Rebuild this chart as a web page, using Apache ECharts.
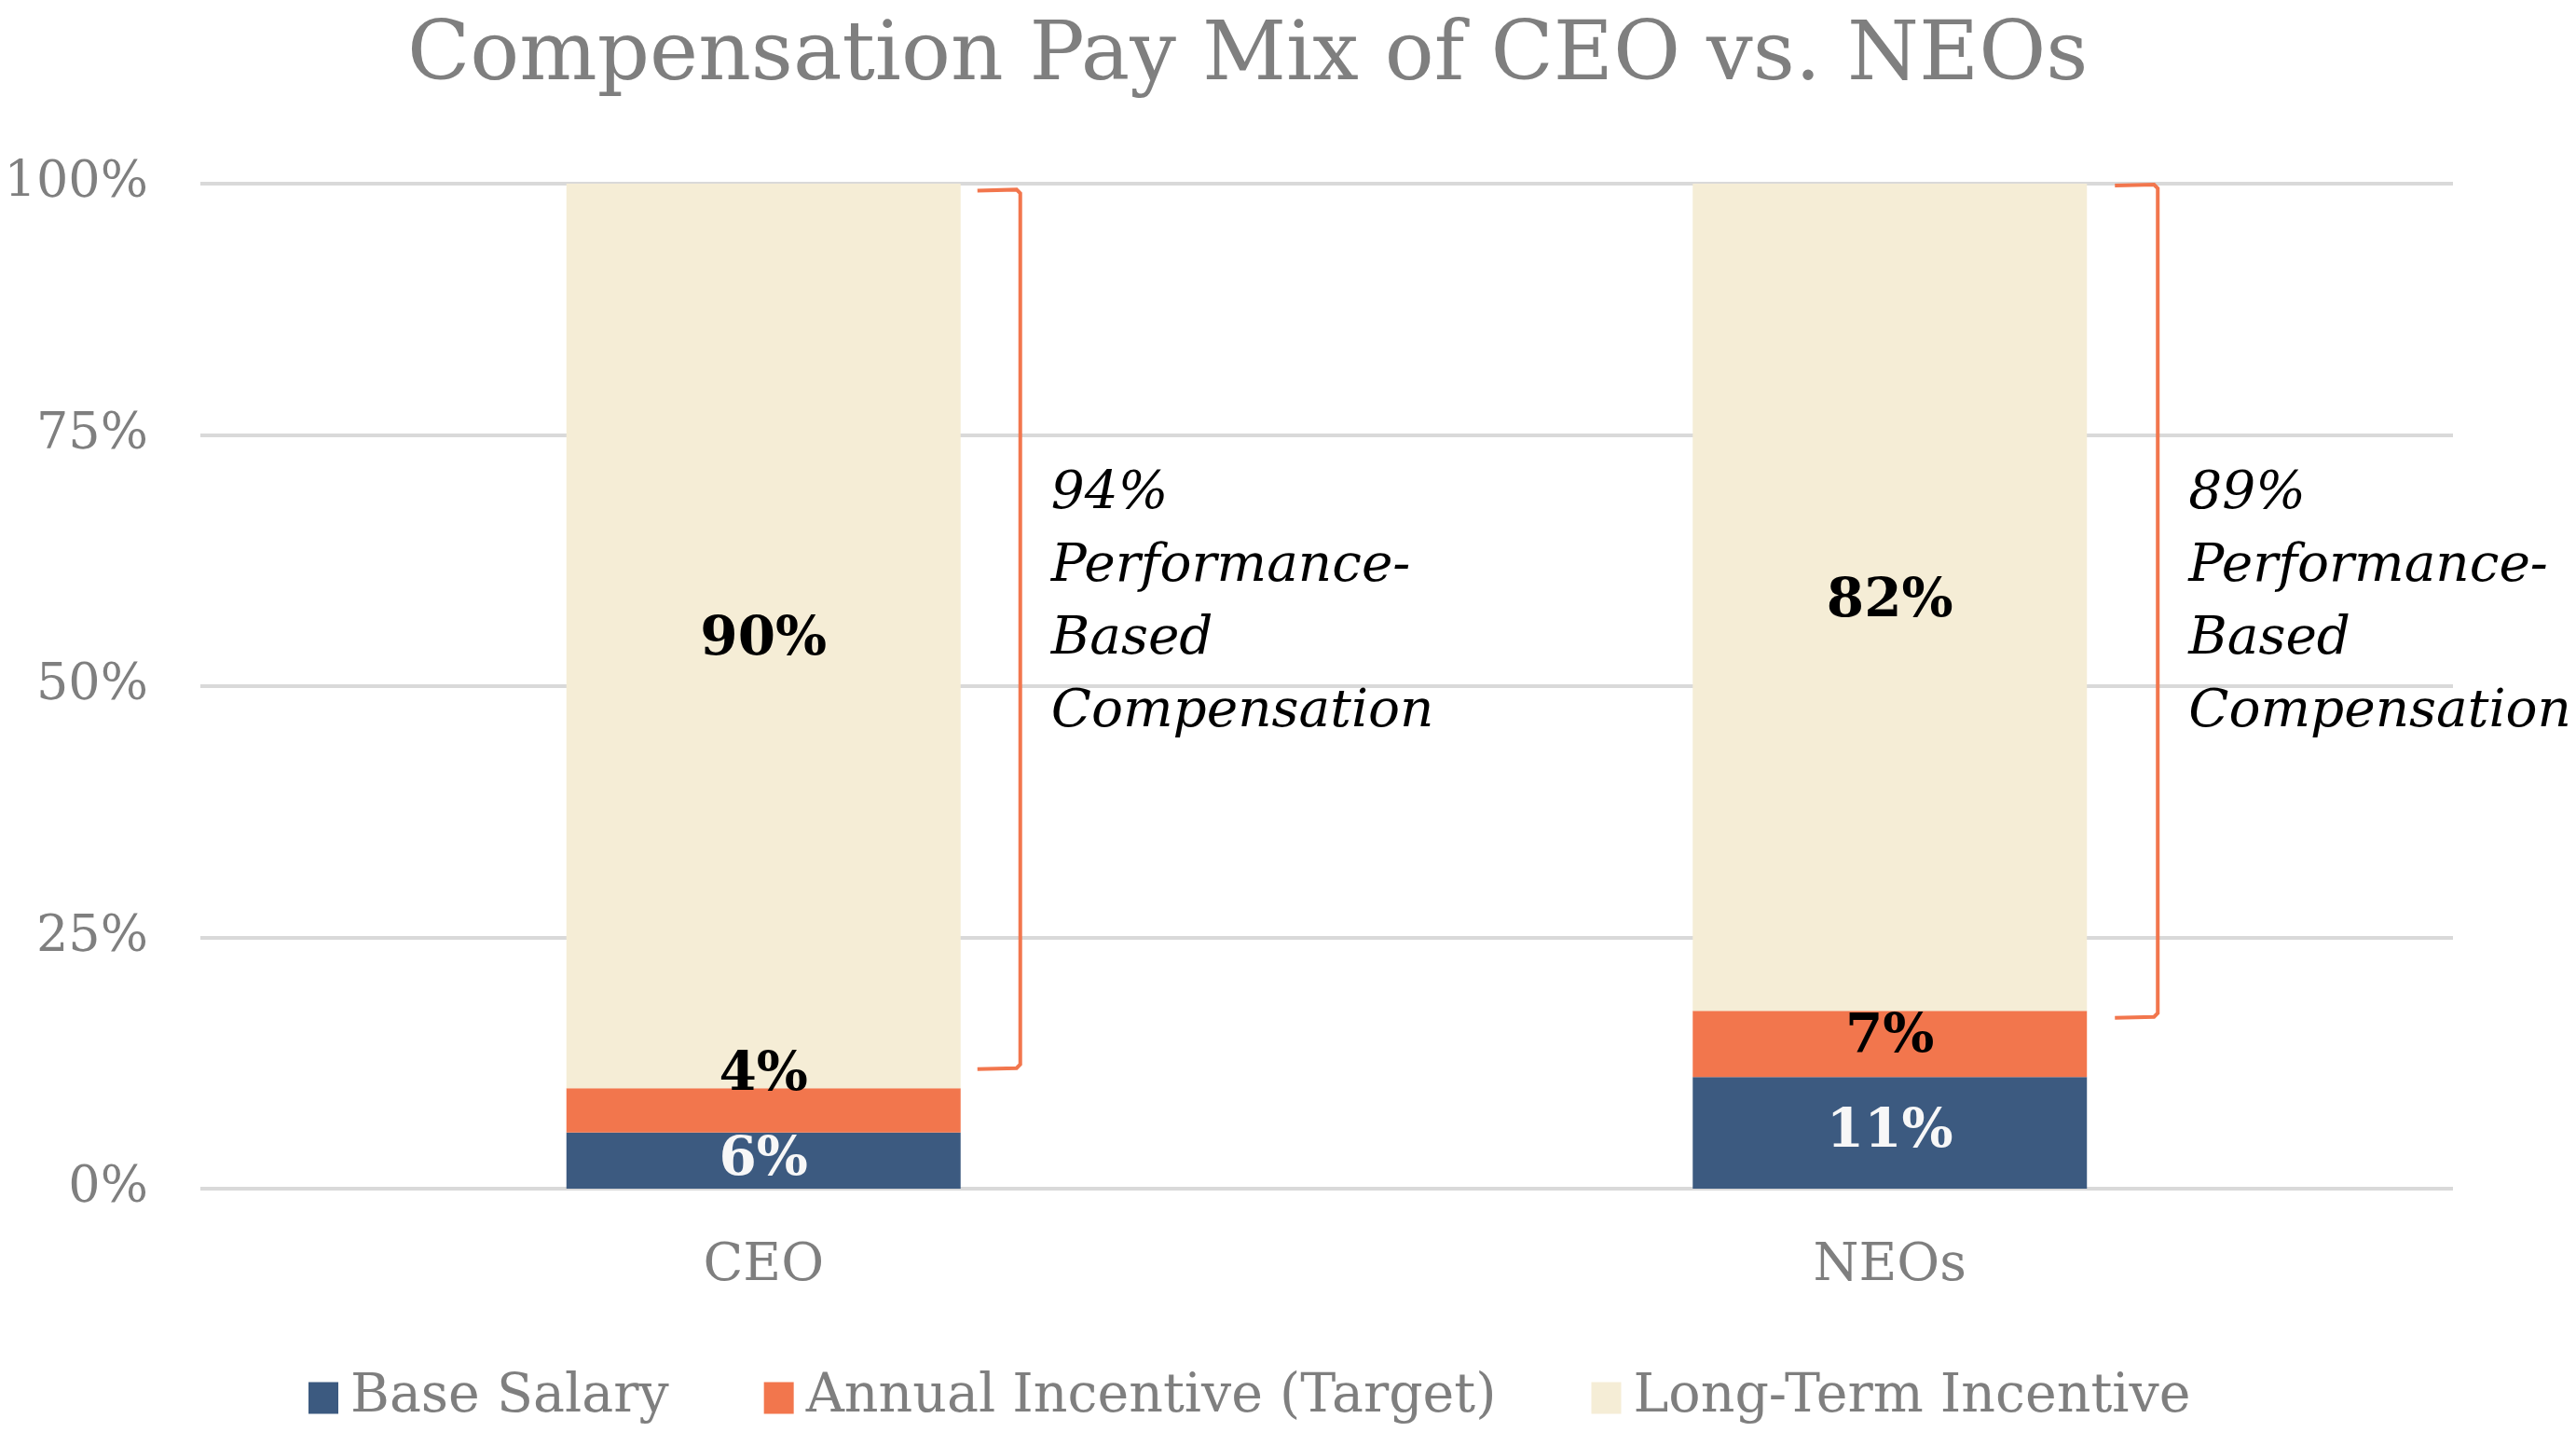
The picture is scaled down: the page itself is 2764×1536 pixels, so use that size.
<!DOCTYPE html>
<html><head><meta charset="utf-8">
<script src="https://cdn.jsdelivr.net/npm/echarts@6/dist/echarts.min.js"></script>
<style>html,body{margin:0;padding:0;background:#fff}#c{width:2764px;height:1536px}</style>
</head><body><div id="c"></div>
<script>
const categories = ['CEO', 'NEOs'];
const seriesNames = ['Base Salary', 'Annual Incentive (Target)', 'Long-Term Incentive'];
const baseSalary = [5.6, 11.1];
const annualIncentive = [4.4, 6.6];
const longTermIncentive = [90.0, 82.3];
const yTicks = [0, 25, 50, 75, 100];
const performanceBased = [94, 89];
const bracketLow = [11.9, 17.0];
const bracketHigh = [99.5, 100];
const noteCenter = 58.2;

const FONT = '"DejaVu Serif", "Liberation Serif", serif';
const GREY = '#7F7F7F';
const C_BASE = '#3C5A80', C_ANN = '#F2764D', C_LTI = '#F5EDD6';

const chart = echarts.init(document.getElementById('c'));
const pct = p => Math.round(p.value) + '%';
const labelBase = {show: true, fontFamily: FONT, fontWeight: 'bold', fontSize: 58};
const annualOffsets = [[0, -37], [0, -7]];
const bracketX = [64, 76];
const noteX = [97, 109];

chart.setOption({
  animation: false,
  backgroundColor: '#fff',
  title: {text: 'Compensation Pay Mix of CEO vs. NEOs', left: 432, top: 13,
    textStyle: {fontFamily: FONT, fontWeight: 'normal', fontSize: 88, color: GREY}},
  legend: {bottom: 3, left: 326, itemWidth: 32, itemHeight: 34, itemGap: 102,
    icon: 'rect', textStyle: {fontFamily: FONT, fontSize: 57, color: GREY, padding: [0, 0, 0, 8]},
    data: seriesNames},
  grid: {left: 215, right: 132, top: 197, bottom: 261, containLabel: false},
  xAxis: {type: 'category', data: categories, axisLine: {show: false}, axisTick: {show: false},
    axisLabel: {fontFamily: FONT, fontSize: 56, color: GREY, margin: 55}},
  yAxis: {type: 'value', min: yTicks[0], max: yTicks[yTicks.length - 1], interval: 25,
    axisLabel: {fontFamily: FONT, fontSize: 54, color: GREY, margin: 56, formatter: '{value}%'},
    splitLine: {lineStyle: {color: '#D9D9D9', width: 4}}},
  series: [
    {name: seriesNames[0], type: 'bar', stack: 't', barWidth: '35%', itemStyle: {color: C_BASE},
      label: Object.assign({}, labelBase, {position: 'inside', color: '#F7F7F7', formatter: pct}),
      data: baseSalary},
    {name: seriesNames[1], type: 'bar', stack: 't', itemStyle: {color: C_ANN},
      label: Object.assign({}, labelBase, {position: 'inside', color: '#000', formatter: pct}),
      data: annualIncentive.map((v, i) => ({value: v, label: {offset: annualOffsets[i]}}))},
    {name: seriesNames[2], type: 'bar', stack: 't', itemStyle: {color: C_LTI},
      label: Object.assign({}, labelBase, {position: 'inside', color: '#000', formatter: pct, offset: [0, 5]}),
      data: longTermIncentive},
    {name: 'bracket', type: 'custom', silent: true, z: 5,
      encode: {x: 0, y: [1, 2]},
      data: categories.map((c, i) => [i, bracketLow[i], bracketHigh[i], performanceBased[i]]),
      renderItem: (params, api) => {
        const i = params.dataIndex;
        const cx = api.coord([api.value(0), 0])[0];
        const bw = api.size([1, 0])[0] * 0.35;
        const right = cx + bw / 2;
        const yTop = api.coord([api.value(0), api.value(2)])[1];
        const yBot = api.coord([api.value(0), api.value(1)])[1];
        const yText = api.coord([api.value(0), noteCenter])[1];
        const vx = right + bracketX[i], tx = right + bracketX[i] - 46;
        return {type: 'group', children: [
          {type: 'polyline', shape: {points: [[tx, yTop + 2], [vx - 4, yTop + 1], [vx, yTop + 5], [vx, yBot - 5], [vx - 4, yBot - 1], [tx, yBot]]},
            style: {stroke: C_ANN, lineWidth: 4, fill: null}},
          {type: 'text', x: right + noteX[i], y: yText,
            style: {text: api.value(3) + '%\nPerformance-\nBased\nCompensation', fontFamily: FONT, fontStyle: 'italic',
              fontSize: 56.5, lineHeight: 78, fill: '#000', verticalAlign: 'middle', align: 'left'}}
        ]};
      }}
  ]
});
</script></body></html>
